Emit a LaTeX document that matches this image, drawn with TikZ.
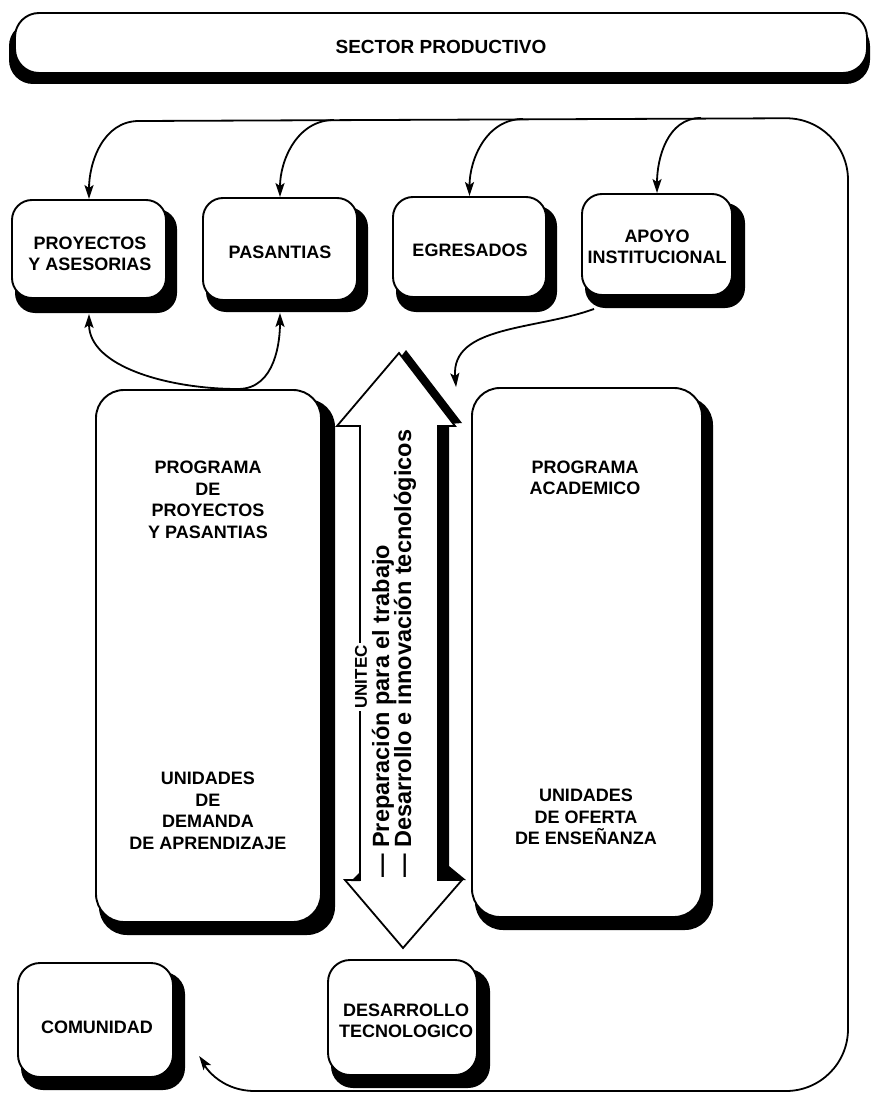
\documentclass[tikz,border=0pt]{standalone}
\usepackage{fontspec}
\setmainfont{Liberation Sans}
\usetikzlibrary{arrows.meta,calc}
\newcommand{\mkshbox}[8]{%
  \fill[black,rounded corners=#6pt] ({#2+3},{#3+9}) rectangle ({#4+#7},{#5+#8});
  \node[wbox, rounded corners=#6pt, minimum width={(#4-#2)*1pt}, minimum height={(#5-#3)*1pt}] (#1) at ({(#2+#4)/2},{(#3+#5)/2}) {};}
\begin{document}
\begin{tikzpicture}[x=1pt,y=-1pt,
  boxtxt/.style={font=\bfseries\fontsize{18}{21.5}\selectfont, align=center, inner sep=0pt},
  wbox/.style={draw=black, fill=white, line width=1.9pt, inner sep=0pt},
  conn/.style={line width=1.8pt, -{Stealth[length=14pt,width=9pt,inset=3pt]}},
  loopline/.style={line width=1.8pt},
  rottxt/.style={rotate=90, anchor=base west, inner sep=0pt, font=\bfseries\fontsize{23.5}{24}\selectfont}
]
\fill[white] (0,0) rectangle (873,1094);
\useasboundingbox (0,0) rectangle (873,1094);

% sector productivo
\fill[black,rounded corners=24pt] (9,22) rectangle (870,84);
\node[wbox, rounded corners=24pt, minimum width=852pt, minimum height=60pt] (sector) at (441,43) {};
\node[boxtxt, font=\bfseries\fontsize{19}{22}\selectfont] (sectortxt) at (441,47) {SECTOR PRODUCTIVO};

% top row
\mkshbox{proy}{12}{200}{166}{298}{20}{11}{15}
\mkshbox{pas}{203}{198}{357}{300}{20}{11}{12}
\mkshbox{egr}{393}{197}{546}{297}{20}{11}{15}
\mkshbox{apo}{582}{194}{732}{295}{20}{13}{13}
\node[boxtxt] (proytxt) at (90,254) {PROYECTOS\\Y ASESORIAS};
\node[boxtxt] (pastxt) at (280,252) {PASANTIAS};
\node[boxtxt] (egrtxt) at (470,250) {EGRESADOS};
\node[boxtxt] (apotxt) at (657,247) {APOYO\\INSTITUCIONAL};

% program boxes
\mkshbox{lp}{96}{390}{321}{922}{28}{14}{13}
\mkshbox{rp}{472}{388}{702}{917}{28}{11}{13}
\node[boxtxt] (lp1) at (208,500) {PROGRAMA\\DE\\PROYECTOS\\Y PASANTIAS};
\node[boxtxt] (lp2) at (208,811) {UNIDADES\\DE\\DEMANDA\\DE APRENDIZAJE};
\node[boxtxt] (rp1) at (585,478) {PROGRAMA\\ACADEMICO};
\node[boxtxt] (rp2) at (586,817) {UNIDADES\\DE OFERTA\\DE ENSEÑANZA};

% bottom row
\mkshbox{com}{18}{963}{173}{1077}{22}{12}{13}
\mkshbox{des}{328}{960}{477}{1075}{22}{13}{13}
\node[boxtxt] (comtxt) at (97,1027) {COMUNIDAD};
\node[boxtxt] (destxt) at (406,1021) {DESARROLLO\\TECNOLOGICO};

% big double arrow
\fill[black] (406,350) -- (462,423) -- (449,424) -- (449,866) -- (466,880) -- (400,880) -- (400,424) -- (350,424) -- cycle;
\filldraw[fill=white, draw=black, line width=1.8pt, line join=miter]
  (399,353) -- (455,426) -- (438,426) -- (438,880) -- (462,880) -- (403,948)
  -- (345,880) -- (360,880) -- (360,426) -- (337,426) -- cycle;
\fill[black] (351,881) -- (360,872) -- (360,881) -- cycle;
\node[rotate=90, fill=white, inner sep=2pt, font=\bfseries\fontsize{17}{17}\selectfont] (unitec) at (361,677) {UNITEC};
\node[rottxt] (t1) at (389,878) {— Preparación para el trabajo};
\node[rottxt] (t2) at (411,878) {— Desarrollo e innovación tecnológicos};

% loop
\coordinate (tl) at (139,121);
\coordinate (bl) at (255,1091);
\draw[loopline, rounded corners=62pt] (tl) -- (848,118) -- (848,1091) -- (bl);
\draw[conn] (tl) to[out=180,in=90] (proy.north);
\draw[conn] (334,120) to[out=180,in=90] (pas.north);
\draw[conn] (523,119) to[out=180,in=90] (egr.north);
\draw[conn] (701,118) to[out=180,in=90] (apo.north);
\draw[conn, shorten >=44pt] (bl) to[out=180,in=-55] (com.east);

% from program box to top boxes
\coordinate (j) at (238,389);
\draw[conn, shorten >=15pt] (j) to[out=180,in=-90] (proy.south);
\draw[conn, shorten >=12pt] (j) to[out=0,in=-90] (pas.south);

% apoyo to academic program
\draw[conn] ([xshift=13pt,yshift=-13pt]apo.south west) to[out=200,in=95] ([xshift=-15pt]rp.north west);
\end{tikzpicture}
\end{document}
